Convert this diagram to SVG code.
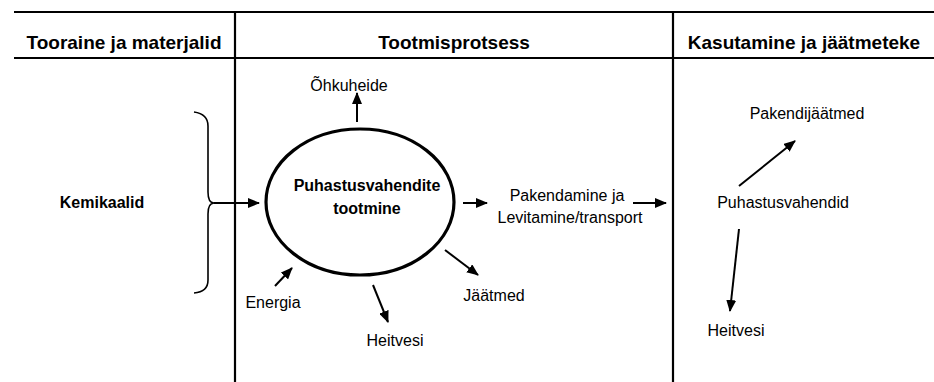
<svg xmlns="http://www.w3.org/2000/svg" width="934" height="382" viewBox="0 0 934 382">
<style>
text{font-family:"Liberation Sans",Arial,sans-serif;fill:#000;text-anchor:middle;dominant-baseline:central}
.h{font-size:19px;font-weight:bold}
.b{font-size:16px;font-weight:bold}
.r{font-size:16px}
.grid{stroke:#000;stroke-width:2.2;fill:none}
.c{stroke:#000;stroke-width:2;fill:none;marker-end:url(#ah)}
</style>
<defs>
<marker id="ah" markerUnits="userSpaceOnUse" markerWidth="12" markerHeight="10" refX="11" refY="5" orient="auto">
<path d="M0,0 L12,5 L0,10 z" fill="#000"/>
</marker>
</defs>
<rect width="934" height="382" fill="#fff"/>
<g id="table">
<line class="grid" x1="14" y1="12" x2="934" y2="12"/>
<line class="grid" x1="14" y1="58" x2="934" y2="58"/>
<line class="grid" x1="235" y1="12" x2="235" y2="382"/>
<line class="grid" x1="673" y1="12" x2="673" y2="382"/>
<text class="h" x="124" y="42">Tooraine ja materjalid</text>
<text class="h" x="454" y="42">Tootmisprotsess</text>
<text class="h" x="804" y="42">Kasutamine ja jäätmeteke</text>
</g>
<g id="kemikaalid">
<path d="M194,112 Q208,114 208,126 L208,192 Q208,203 214,203 Q208,203 208,214 L208,280 Q208,292 194,293" fill="none" stroke="#000" stroke-width="1.6"/>
<text class="b" x="102" y="202">Kemikaalid</text>
</g>
<g id="protsess">
<ellipse cx="360" cy="202" rx="94" ry="73" fill="none" stroke="#000" stroke-width="3.2"/>
<text class="b" x="367" y="185">Puhastusvahendite</text>
<text class="b" x="367" y="208">tootmine</text>
</g>
<g id="ohkuheide"><text class="r" x="349" y="85">Õhkuheide</text></g>
<g id="pakendamine">
<text class="r" x="567" y="195">Pakendamine ja</text>
<text class="r" x="570" y="217">Levitamine/transport</text>
</g>
<g id="jaatmed"><text class="r" x="494" y="295">Jäätmed</text></g>
<g id="heitvesi1"><text class="r" x="395" y="340">Heitvesi</text></g>
<g id="energia"><text class="r" x="273" y="302">Energia</text></g>
<g id="pakendijaatmed"><text class="r" x="807" y="113">Pakendijäätmed</text></g>
<g id="puhastusvahendid"><text class="r" x="783" y="202">Puhastusvahendid</text></g>
<g id="heitvesi2"><text class="r" x="736" y="330">Heitvesi</text></g>
<g id="connectors">
<line class="c" x1="214" y1="203" x2="259" y2="203"/>
<line class="c" x1="357" y1="122" x2="357" y2="93"/>
<line class="c" x1="463" y1="203" x2="487" y2="203"/>
<line class="c" x1="633" y1="203" x2="666" y2="203"/>
<line class="c" x1="445" y1="250" x2="478" y2="275"/>
<line class="c" x1="373" y1="285" x2="388" y2="322"/>
<line class="c" x1="275" y1="286" x2="292" y2="268"/>
<line class="c" x1="739" y1="186" x2="795" y2="141"/>
<line class="c" x1="739" y1="229" x2="730" y2="311"/>
</g>
</svg>
